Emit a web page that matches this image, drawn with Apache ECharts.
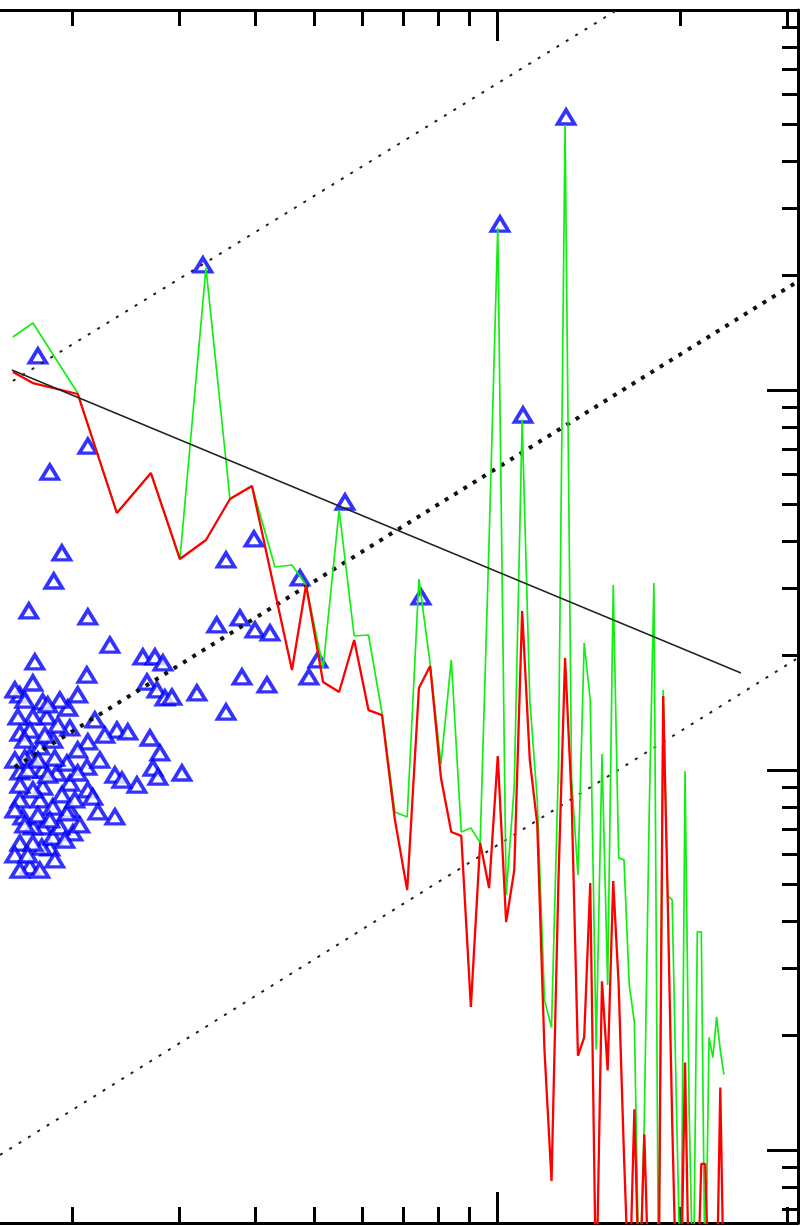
<!DOCTYPE html>
<html><head><meta charset="utf-8">
<script src="https://cdn.jsdelivr.net/npm/echarts@6/dist/echarts.min.js"></script>
<style>html,body{margin:0;padding:0;background:#fff}#c{width:804px;height:1226px}</style>
</head><body><div id="c"></div>
<script>
// ---- data (log-log axes) ----
const freq = [0.1599,0.1725,0.2044,0.2371,0.2697,0.3010,0.3322,0.3638,0.3954,0.4314,0.4601,
  0.4853,0.5176,0.55,0.5823,0.6147,0.647,0.6794,0.7117,0.7441,0.7764,0.8088,0.8411,0.8735,0.9058,0.9382,
  0.9705,1.0029,1.0352,1.0676,1.0999,1.1323,1.1646,1.197,1.2293,1.2617,1.294,1.3264,1.3587,1.3911,1.4234,
  1.4558,1.4881,1.5205,1.5528,1.5852,1.6175,1.6499,1.6822,1.7146,1.7469,1.7793,1.8116,1.844,1.8763,1.9087,
  1.941,1.9734,2.0057,2.0381,2.0704,2.1028,2.1351,2.1675,2.1998,2.2322,2.2645,2.2969,2.3292,2.3616];
const greenVals = [1.379,1.501,0.982,0.4746,0.6046,0.3591,2.095,0.5165,0.5589,0.3421,0.3463,
  0.3068,0.1855,0.4833,0.2252,0.2266,0.1413,0.0775,0.0752,0.3181,0.1901,0.1037,0.1948,0.0687,0.0704,0.0643,
  0.4030,2.669,0.0469,0.0908,0.834,0.1528,0.0834,0.0248,0.0210,0.1012,4.983,0.0941,0.0529,0.2159,0.1528,
  0.0184,0.1102,0.0272,0.3068,0.0587,0.0580,0.0272,0.0217,0.004,0.0120,0.0761,0.3105,0.004,0.1624,0.0466,
  0.0455,0.0128,0.004,0.0994,0.0125,0.004,0.0375,0.0375,0.004,0.0198,0.0175,0.0224,0.0183,0.0158];
const redVals = [1.115,1.043,0.976,0.4746,0.6046,0.3591,0.4030,0.5165,0.5589,0.2940,0.1833,
  0.3068,0.1704,0.1604,0.2198,0.1438,0.1395,0.0739,0.0483,0.1643,0.1878,0.0953,0.0687,0.0671,0.0238,0.0643,
  0.0489,0.1088,0.0398,0.0545,0.2621,0.1062,0.0721,0.0183,0.00829,0.0504,0.1971,0.0844,0.0177,0.0198,0.0504,
  0.004,0.0278,0.0162,0.0510,0.0272,0.00964,0.004,0.0128,0.004,0.0110,0.004,0.004,0.004,0.1566,0.0455,
  0.0120,0.004,0.004,0.0170,0.004,0.004,0.004,0.00919,0.00919,0.004,0.004,0.004,0.0146,0.004];
const triX = [0.1758,0.1839,0.2124,0.1925,0.1867,0.1699,0.2124,0.2309,0.1738,0.3284,0.4742,0.5624,0.7499,
  1.0114,1.1035,1.2989,0.3584,0.3984,0.3460,0.3778,0.3999,0.4233,0.2616,0.2738,0.2822,0.2657,0.2759,0.2844,
  0.2920,0.3210,0.3807,0.4185,0.3584,0.4906,0.5076,0.2116,0.2044,0.1969,0.1725,0.1642,0.1791,0.1818,0.1725,
  0.1630,0.1984,0.2371,0.2471,0.2687,0.2124,0.2790,0.2718,0.2769,0.3033,0.2558,0.2353,0.2416,0.1771,0.1860,
  0.1642,0.1705,0.1642,0.1791,0.1888,0.1984,0.2116,0.2124,0.2164,0.2206,0.2353,0.1962,0.1874,0.1791,0.1673,
  0.1984,0.2007,0.1839,0.1791,0.1725,0.1661,0.1705,0.1642,0.1784,0.1642,0.1725,0.1860,0.1910,0.1962,0.1771,
  0.1642,0.1860,0.1725,0.2044,0.1642,0.1705,0.1910,0.1673,
  0.1611,0.1673,0.1825,0.1611,0.1692,0.1758,0.1825,0.1611,0.1673,0.1758,0.1839,0.1925,0.2022,0.1611,0.1692,
  0.1771,0.1874,0.1947,0.2060,0.1805,0.1896,0.2044,0.2223,0.2265,0.2181];
const triY = [1.229,0.6083,0.7121,0.3725,0.3143,0.2621,0.2528,0.2132,0.1925,2.133,0.3201,0.5073,0.2853,
  2.734,0.8594,5.229,0.3570,0.4055,0.2408,0.2512,0.2336,0.2294,0.1984,0.1984,0.1913,0.1704,0.1624,0.1547,
  0.1556,0.1595,0.1757,0.1674,0.1421,0.1757,0.1948,0.1778,0.1576,0.1456,0.1694,0.1576,0.1510,0.1379,0.1379,
  0.1379,0.1290,0.1274,0.1259,0.1214,0.1185,0.1109,0.1012,0.0958,0.0982,0.0913,0.0970,0.0941,0.1150,0.1199,
  0.1251,0.1082,0.0988,0.0902,0.0982,0.0924,0.1018,0.0886,0.0849,0.0776,0.0753,0.1043,0.1075,0.1,0.1075,
  0.0785,0.0683,0.0624,0.0708,0.0708,0.0753,0.0556,0.0545,0.0627,0.0642,0.0642,0.0666,0.0708,0.0771,0.0834,
  0.0834,0.0799,0.0886,0.0982,0.0913,0.1274,0.1528,0.1199,
  0.1624,0.1528,0.1483,0.1062,0.1,0.1062,0.0970,0.0785,0.0717,0.0762,0.0739,0.0860,0.0834,0.0598,0.0598,
  0.0545,0.0580,0.0654,0.0717,0.1236,0.1313,0.1129,0.1062,0.1236,0.1354];
const fitX = [0.1593, 2.519];
const fitY = [1.129, 0.180];
const guideTopX = [0.1523, 0.25],   guideTopY = [10.12, 16.6];
const guideUpperX = [0.1599, 1.575], guideUpperY = [1.056, 10];
const guideMidX = [0.1611, 3.114],   guideMidY = [0.1018, 1.924];
const guideLowX = [0.1523, 3.126],   guideLowY = [0.00970, 0.1971];
const xRange = [0.1523, 3.126];
const yRange = [0.006425, 10];
const xMajor = [1];
const xMinor = [0.2,0.3,0.4,0.5,0.6,0.7,0.8,0.9,2,3];
const yMajor = [0.01,0.1,1,10];
const yMinor = [0.007,0.008,0.009,0.02,0.03,0.04,0.05,0.06,0.07,0.08,0.09,
  0.2,0.3,0.4,0.5,0.6,0.7,0.8,0.9,2,3,4,5,6,7,8,9];

const zip = (a, b) => a.map((v, i) => [v, b[i]]);

function xAx(pos, ticks, len, line) {
  return { type: 'log', position: pos, min: xRange[0], max: xRange[1],
    axisLine: { show: line, onZero: false, lineStyle: { color: '#000', width: 3 } },
    axisTick: { show: true, inside: true, length: len, customValues: ticks, lineStyle: { color: '#000', width: 3 } },
    axisLabel: { show: false }, splitLine: { show: false } };
}
function yAx(ticks, len, line) {
  return { type: 'log', position: 'right', min: yRange[0], max: yRange[1],
    axisLine: { show: line, onZero: false, lineStyle: { color: '#000', width: 3 } },
    axisTick: { show: true, inside: true, length: len, customValues: ticks, lineStyle: { color: '#000', width: 3 } },
    axisLabel: { show: false }, splitLine: { show: false } };
}

const chart = echarts.init(document.getElementById('c'), null, { renderer: 'canvas' });
const lineBase = { type: 'line', showSymbol: false, symbol: 'none', animation: false, clip: true, silent: true };
chart.setOption({
  backgroundColor: '#fff',
  animation: false,
  grid: { left: 0, right: 6, top: 10, bottom: 3, containLabel: false },
  xAxis: [xAx('bottom', xMajor, 31, true), xAx('top', xMajor, 31, true),
          xAx('bottom', xMinor, 16, false), xAx('top', xMinor, 16, false)],
  yAxis: [yAx(yMajor, 31, true), yAx(yMinor, 16, false)],
  series: [
    Object.assign({}, lineBase, { data: zip(guideTopX, guideTopY), lineStyle: { color: '#222', width: 2, type: [3, 8] } }),
    Object.assign({}, lineBase, { data: zip(guideUpperX, guideUpperY), lineStyle: { color: '#222', width: 2, type: [3, 8] } }),
    Object.assign({}, lineBase, { data: zip(guideMidX, guideMidY), lineStyle: { color: '#111', width: 4, type: [4, 7] } }),
    Object.assign({}, lineBase, { data: zip(guideLowX, guideLowY), lineStyle: { color: '#222', width: 2, type: [3, 8] } }),
    Object.assign({}, lineBase, { data: zip(freq, greenVals), lineStyle: { color: '#11ee11', width: 1.7 } }),
    Object.assign({}, lineBase, { data: zip(freq, redVals), lineStyle: { color: '#ff0000', width: 2.3 } }),
    Object.assign({}, lineBase, { data: zip(fitX, fitY), lineStyle: { color: '#222', width: 1.5 } }),
    { type: 'scatter', data: zip(triX, triY), symbol: 'triangle', symbolSize: [17, 14], animation: false, silent: true,
      itemStyle: { color: '#fff', borderColor: '#0000ff', borderWidth: 3.6 } }
  ]
});
</script></body></html>
